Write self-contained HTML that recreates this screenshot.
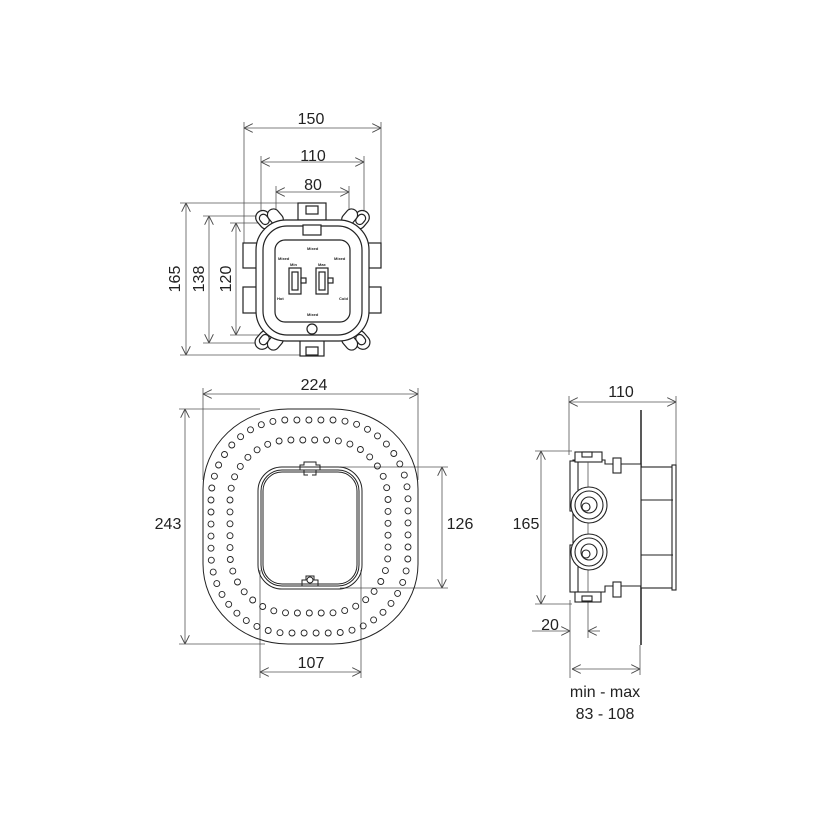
<!DOCTYPE html>
<html><head><meta charset="utf-8"><style>
html,body{margin:0;padding:0;background:#fff}
svg{display:block}
text{font-family:"Liberation Sans",Arial,sans-serif;fill:#222}
</style></head><body>
<svg id="s" width="830" height="830" viewBox="0 0 830 830" xmlns="http://www.w3.org/2000/svg">
<defs>
<marker id="a" viewBox="0 0 10 10" refX="10" refY="5" markerWidth="9" markerHeight="9" orient="auto-start-reverse" markerUnits="userSpaceOnUse"><path d="M0,0 L10,5 L0,10" fill="none" stroke="#444" stroke-width="1"/></marker>
</defs>
<g stroke="#555" stroke-width="0.8" fill="none">
<!-- TOP VIEW dimensions -->
<line x1="244" y1="128" x2="381" y2="128" marker-start="url(#a)" marker-end="url(#a)"/>
<line x1="244" y1="122" x2="244" y2="250"/><line x1="381" y1="122" x2="381" y2="243"/>
<line x1="261" y1="162" x2="364" y2="162" marker-start="url(#a)" marker-end="url(#a)"/>
<line x1="261" y1="156" x2="261" y2="225"/><line x1="364" y1="156" x2="364" y2="225"/>
<line x1="276" y1="192" x2="349" y2="192" marker-start="url(#a)" marker-end="url(#a)"/>
<line x1="276" y1="186" x2="276" y2="215"/><line x1="349" y1="186" x2="349" y2="215"/>
<line x1="186" y1="203" x2="186" y2="355" marker-start="url(#a)" marker-end="url(#a)"/>
<line x1="180" y1="203" x2="298" y2="203"/><line x1="180" y1="355" x2="300" y2="355"/>
<line x1="209" y1="216" x2="209" y2="343" marker-start="url(#a)" marker-end="url(#a)"/>
<line x1="203" y1="216" x2="265" y2="216"/><line x1="203" y1="343" x2="265" y2="343"/>
<line x1="236" y1="223" x2="236" y2="335" marker-start="url(#a)" marker-end="url(#a)"/>
<line x1="230" y1="223" x2="262" y2="223"/><line x1="230" y1="335" x2="262" y2="335"/>
</g>
<g stroke="#222" stroke-width="1.2" fill="#fff">
<!-- ears -->
<g transform="rotate(-40 264 219)"><rect x="257" y="210" width="14" height="20" rx="7"/><rect x="260" y="214" width="8" height="11" rx="4"/></g>
<g transform="rotate(-40 276 218)"><rect x="270" y="208" width="12" height="18" rx="6"/></g>
<g transform="rotate(40 361 219)"><rect x="354" y="210" width="14" height="20" rx="7"/><rect x="357" y="214" width="8" height="11" rx="4"/></g>
<g transform="rotate(40 349 218)"><rect x="343" y="208" width="12" height="18" rx="6"/></g>
<g transform="rotate(40 264 340)"><rect x="257" y="330" width="14" height="20" rx="7"/><rect x="260" y="334" width="8" height="11" rx="4"/></g>
<g transform="rotate(40 276 341)"><rect x="270" y="333" width="12" height="18" rx="6"/></g>
<g transform="rotate(-40 361 340)"><rect x="354" y="330" width="14" height="20" rx="7"/><rect x="357" y="334" width="8" height="11" rx="4"/></g>
<g transform="rotate(-40 349 341)"><rect x="343" y="333" width="12" height="18" rx="6"/></g>
<!-- tabs -->
<rect x="298" y="203" width="28" height="17"/><rect x="306" y="206" width="12" height="8"/>
<rect x="300" y="340" width="24" height="16"/><rect x="306" y="347" width="12" height="8"/>
<rect x="243" y="243" width="16" height="25"/><rect x="243" y="287" width="16" height="26"/>
<rect x="366" y="243" width="15" height="25"/><rect x="366" y="287" width="15" height="26"/>
<rect x="256" y="220" width="113" height="121" rx="30"/>
<rect x="263" y="226" width="99" height="109" rx="24"/>
<rect x="275" y="240" width="75" height="82" rx="10"/>
<rect x="303" y="225" width="18" height="10"/>
<circle cx="312" cy="329" r="5"/>
<!-- internal -->
<rect x="289" y="268" width="12" height="26"/><rect x="292" y="272" width="6" height="18"/>
<rect x="316" y="268" width="12" height="26"/><rect x="319" y="272" width="6" height="18"/>
<rect x="301" y="278" width="5" height="5"/><rect x="328" y="278" width="5" height="5"/>
</g>
<g font-size="4" font-weight="bold"><text x="307" y="250">Mixed</text><text x="278" y="260">Mixed</text><text x="334" y="260">Mixed</text><text x="290" y="266">Min</text><text x="318" y="266">Max</text><text x="277" y="300">Hot</text><text x="339" y="300">Cold</text><text x="307" y="316">Mixed</text></g>
<!-- BOTTOM LEFT -->
<g stroke="#555" stroke-width="0.8" fill="none">
<line x1="203" y1="394" x2="418" y2="394" marker-start="url(#a)" marker-end="url(#a)"/>
<line x1="203" y1="388" x2="203" y2="480"/><line x1="418" y1="388" x2="418" y2="480"/>
<line x1="185" y1="409" x2="185" y2="644" marker-start="url(#a)" marker-end="url(#a)"/>
<line x1="179" y1="409" x2="260" y2="409"/><line x1="179" y1="644" x2="265" y2="644"/>
<line x1="442" y1="467" x2="442" y2="588" marker-start="url(#a)" marker-end="url(#a)"/>
<line x1="340" y1="467" x2="448" y2="467"/><line x1="340" y1="588" x2="448" y2="588"/>
<line x1="260" y1="672" x2="361" y2="672" marker-start="url(#a)" marker-end="url(#a)"/>
<line x1="260" y1="570" x2="260" y2="678"/><line x1="361" y1="570" x2="361" y2="678"/>
</g>
<g stroke="#222" stroke-width="1" fill="none">
<rect x="203" y="409" width="215" height="235" rx="85" ry="80"/>
<rect x="258" y="467" width="104" height="122" rx="24"/>
<rect x="261" y="470" width="98" height="116" rx="21"/>
<rect x="263" y="472" width="94" height="112" rx="19"/>
<path d="M300 470 v-5 h4 v-3 h12 v3 h4 v5 M304 470 v5 h4 M316 470 v5 h-4"/>
<path d="M302 586 v-6 h4 v-4 h8 v4 h4 v6"/><circle cx="310" cy="580" r="3"/>
</g>
<g id="dots" stroke="#222" stroke-width="0.9" fill="none"></g>
<path id="p1" d="M211 500 A76 80 0 0 1 287 420 H332 A76 80 0 0 1 408 500 V552 A76 80 0 0 1 332 633 H287 A76 80 0 0 1 211 552 Z" fill="none" stroke="none"/>
<path id="p2" d="M230 500 A60 60 0 0 1 290 440 H328 A60 60 0 0 1 388 500 V553 A60 60 0 0 1 328 613 H290 A60 60 0 0 1 230 553 Z" fill="none" stroke="none"/>
<!-- RIGHT VIEW -->
<g stroke="#555" stroke-width="0.8" fill="none">
<line x1="569" y1="402" x2="676" y2="402" marker-start="url(#a)" marker-end="url(#a)"/>
<line x1="569" y1="396" x2="569" y2="455"/><line x1="676" y1="396" x2="676" y2="465"/>
<line x1="541" y1="451" x2="541" y2="604" marker-start="url(#a)" marker-end="url(#a)"/>
<line x1="535" y1="451" x2="572" y2="451"/><line x1="535" y1="604" x2="572" y2="604"/>
<line x1="532" y1="631" x2="570" y2="631" marker-end="url(#a)"/>
<line x1="600" y1="631" x2="588" y2="631" marker-end="url(#a)"/>
<line x1="570" y1="600" x2="570" y2="678"/><line x1="588" y1="600" x2="588" y2="638"/>
<line x1="572" y1="669" x2="640" y2="669" marker-start="url(#a)" marker-end="url(#a)"/>
<line x1="640" y1="645" x2="640" y2="675"/>
</g>
<g stroke="#222" stroke-width="1.1" fill="#fff">
<line x1="641" y1="410" x2="641" y2="645" stroke-width="1.5"/>
<rect x="641" y="467" width="32" height="121"/><rect x="672" y="465" width="4" height="125"/>
<line x1="605" y1="500" x2="673" y2="500"/><line x1="605" y1="555" x2="673" y2="555"/>
<path d="M573 460 H605 V464 H641 V586 H605 V592 H573 Z"/>
<rect x="570" y="461" width="8" height="50"/><rect x="570" y="545" width="8" height="47"/>
<rect x="575" y="452" width="27" height="10"/><rect x="582" y="452" width="10" height="5"/>
<rect x="575" y="592" width="26" height="10"/><rect x="582" y="596" width="10" height="5"/>
<rect x="613" y="458" width="8" height="15"/><rect x="613" y="582" width="8" height="15"/>
<line x1="588" y1="462" x2="588" y2="592" stroke="#555" stroke-width="0.8"/>
<circle cx="589" cy="505" r="18"/><circle cx="589" cy="505" r="14"/><circle cx="589" cy="505" r="8"/><circle cx="586" cy="507" r="4"/>
<circle cx="589" cy="552" r="18"/><circle cx="589" cy="552" r="14"/><circle cx="589" cy="552" r="8"/><circle cx="586" cy="554" r="4"/>
</g>
<g font-size="16">
<text x="311" y="124" text-anchor="middle">150</text>
<text x="313" y="161" text-anchor="middle">110</text>
<text x="313" y="190" text-anchor="middle">80</text>
<text transform="translate(180 279) rotate(-90)" text-anchor="middle">165</text>
<text transform="translate(204 279) rotate(-90)" text-anchor="middle">138</text>
<text transform="translate(231 279) rotate(-90)" text-anchor="middle">120</text>
<text x="314" y="390" text-anchor="middle">224</text>
<text x="168" y="529" text-anchor="middle">243</text>
<text x="460" y="529" text-anchor="middle">126</text>
<text x="311" y="668" text-anchor="middle">107</text>
<text x="621" y="397" text-anchor="middle">110</text>
<text x="526" y="529" text-anchor="middle">165</text>
<text x="550" y="630" text-anchor="middle">20</text>
<text x="605" y="697" text-anchor="middle">min - max</text>
<text x="605" y="719" text-anchor="middle">83 - 108</text>
</g>
</svg>
<script>
(function(){
var ns="http://www.w3.org/2000/svg",g=document.getElementById('dots');
[['p1',12],['p2',12]].forEach(function(o){
var p=document.getElementById(o[0]),L=p.getTotalLength(),n=Math.round(L/o[1]);
for(var i=0;i<n;i++){var pt=p.getPointAtLength(i*L/n);var c=document.createElementNS(ns,'circle');
c.setAttribute('cx',pt.x.toFixed(1));c.setAttribute('cy',pt.y.toFixed(1));c.setAttribute('r','3');g.appendChild(c);}
});
})();
</script>
</body></html>
